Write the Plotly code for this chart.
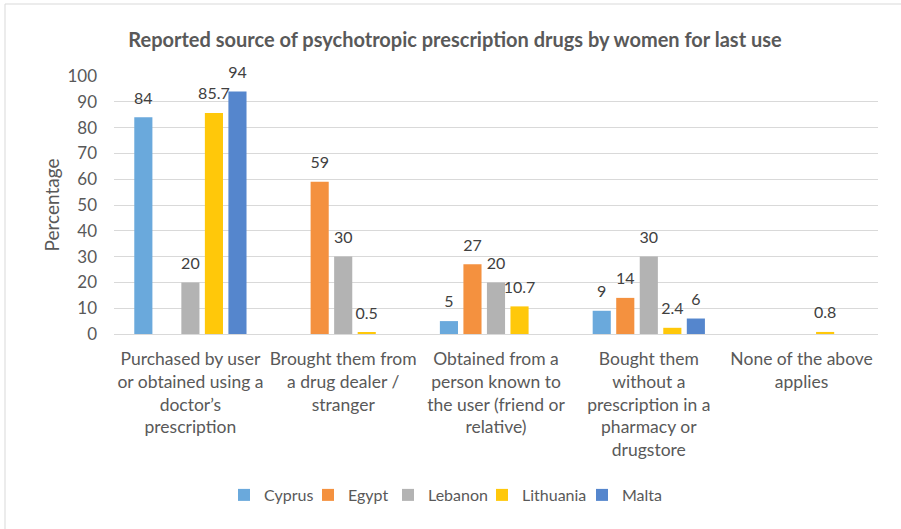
import plotly.graph_objects as go

categories = [
    "Purchased by user<br>or obtained using a<br>doctor\u2019s<br>prescription",
    "Brought them from<br>a drug dealer /<br>stranger",
    "Obtained from a<br>person known to<br>the user (friend or<br>relative)",
    "Bought them<br>without a<br>prescription in a<br>pharmacy or<br>drugstore",
    "None of the above<br>applies",
]
cyprus = [84, None, 5, 9, None]
egypt = [None, 59, 27, 14, None]
lebanon = [20, 30, 20, 30, None]
lithuania = [85.7, 0.5, 10.7, 2.4, 0.8]
malta = [94, None, None, 6, None]

series_names = ["Cyprus", "Egypt", "Lebanon", "Lithuania", "Malta"]
series_values = [cyprus, egypt, lebanon, lithuania, malta]
colors = ["#6AA9DC", "#F4913F", "#B3B3B3", "#FFC80A", "#5586CD"]
legend_widths = [39, 35, 49, 55, 45]

y_ticks = list(range(0, 101, 10))
font_family = "Lato, 'Open Sans', sans-serif"

fig = go.Figure()
for name, vals, col, lw in zip(series_names, series_values, colors, legend_widths):
    fig.add_trace(go.Bar(
        name=name,
        x=categories,
        y=vals,
        offsetgroup=name,
        legendwidth=lw,
        marker=dict(color=col, line=dict(width=0)),
    ))
for name, vals in zip(series_names, series_values):
    fig.add_trace(go.Scatter(
        x=categories,
        y=vals,
        offsetgroup=name,
        orientation="v",
        mode="markers+text",
        marker=dict(size=14, opacity=0),
        text=["" if v is None else f"{v:g}" for v in vals],
        textposition="top center",
        textfont=dict(size=16, color="#404040", family=font_family),
        showlegend=False,
        cliponaxis=False,
        hoverinfo="skip",
    ))

fig.update_layout(
    width=901, height=529,
    margin=dict(l=114, r=23, t=76, b=195),
    paper_bgcolor="white", plot_bgcolor="white",
    barmode="group", bargap=0.23, bargroupgap=0.23,
    scattermode="group", scattergap=0.23,
    font=dict(family=font_family, color="#595959"),
    title=dict(
        text="<b>Reported source of psychotropic prescription drugs by women for last use</b>",
        x=0.505, xref="container", xanchor="center",
        y=1 - 40 / 529, yref="container", yanchor="middle",
        font=dict(size=20, color="#595959", family=font_family),
    ),
    legend=dict(
        orientation="h", x=(239 - 15 - 114) / 764, xanchor="left", y=-0.624, yanchor="middle",
        font=dict(size=16, color="#595959"), itemwidth=30,
        traceorder="normal",
    ),
    xaxis=dict(
        showgrid=False, showline=True, linecolor="#D9D9D9", linewidth=1,
        tickfont=dict(size=17.5, color="#595959"), ticks="", ticklabelstandoff=9,
    ),
    yaxis=dict(
        range=[0, 100], tickvals=y_ticks, showgrid=True, gridcolor="#D9D9D9",
        gridwidth=1, zeroline=False, showline=False, ticks="",
        tickfont=dict(size=17, color="#595959"), ticklabelstandoff=16,
        title=dict(text="Percentage", font=dict(size=19, color="#595959"), standoff=2),
    ),
    shapes=[dict(
        type="rect", xref="paper", yref="paper",
        x0=-109 / 764, x1=900 / 764, y0=-210 / 258, y1=(334 - 4) / 258,
        line=dict(color="#D9D9D9", width=1), fillcolor="rgba(0,0,0,0)", layer="below",
    )],
)

fig.write_html("out.html", config={"displayModeBar": False},
               post_script="document.body.style.margin='0';")
